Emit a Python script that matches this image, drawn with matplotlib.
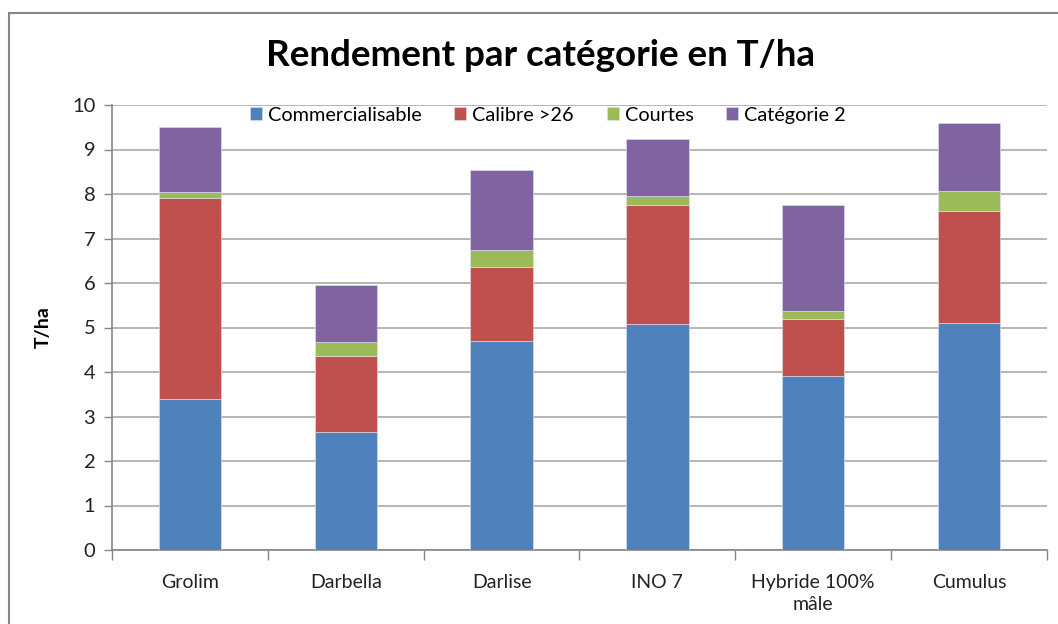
import matplotlib
matplotlib.use("Agg")
import matplotlib.pyplot as plt
import numpy as np
from matplotlib.patches import Rectangle

categories = ["Grolim", "Darbella", "Darlise", "INO 7", "Hybride 100%\nmâle", "Cumulus"]
series_names = ["Commercialisable", "Calibre >26", "Courtes", "Catégorie 2"]
commercialisable = [3.40, 2.65, 4.70, 5.08, 3.92, 5.09]
calibre = [4.50, 1.72, 1.67, 2.67, 1.27, 2.53]
courtes = [0.15, 0.30, 0.38, 0.21, 0.17, 0.45]
categorie2 = [1.46, 1.28, 1.79, 1.27, 2.39, 1.52]
yticks = [0, 1, 2, 3, 4, 5, 6, 7, 8, 9, 10]

colors = ["#4F81BD", "#C0504D", "#9BBB59", "#8064A2"]
FONT = ["Lato", "DejaVu Sans"]
plt.rcParams["font.family"] = FONT

fig = plt.figure(figsize=(10.58, 6.24), dpi=100)
fig.patches.append(Rectangle((9 / 1058, -0.1), 1.2, 1 - 13 / 624 + 0.1,
                             transform=fig.transFigure, fill=False,
                             edgecolor="#868686", linewidth=1.5))

ax = fig.add_axes([112 / 1058, 1 - 550 / 624, 935 / 1058, 445 / 624])
x = np.arange(len(categories))
bottom = np.zeros(len(categories))
for name, vals, c in zip(series_names, [commercialisable, calibre, courtes, categorie2], colors):
    ax.bar(x, vals, width=0.4, bottom=bottom, color=c, label=name, zorder=3,
           edgecolor="#dde6f2", linewidth=0.4)
    bottom += np.array(vals)

ax.set_xlim(-0.5, len(categories) - 0.5)
ax.set_ylim(0, 10)
ax.set_yticks(yticks)
ax.set_yticklabels([str(v) for v in yticks], fontsize=14.5, color="#222222")
ax.set_xticks(x)
ax.set_xticklabels(categories, fontsize=14, color="#222222", linespacing=1.35)
ax.set_xticks(np.arange(-0.5, len(categories)), minor=True)
ax.tick_params(axis="x", which="major", length=0, pad=17)
ax.tick_params(axis="x", which="minor", length=7, color="#868686", width=1)
ax.tick_params(axis="y", length=6, color="#868686", width=1, pad=6)
ax.grid(axis="y", color="#b0b0b0", linewidth=1.3, zorder=0)
for s in ["top", "right"]:
    ax.spines[s].set_visible(False)
for s in ["left", "bottom"]:
    ax.spines[s].set_color("#868686")
    ax.spines[s].set_linewidth(1.2)

ax.set_ylabel("T/ha", fontsize=14, fontweight="bold")
ax.yaxis.set_label_coords((52 - 112) / 935, 0.5)

ax.legend(loc="upper left", bbox_to_anchor=((250 - 112) / 935, 0.996), ncol=4, frameon=False,
          fontsize=14.3, handlelength=0.6, handleheight=0.6, handletextpad=0.3,
          columnspacing=1.65, borderaxespad=0, borderpad=0)

fig.text(540 / 1058, 1 - 55 / 624, "Rendement par catégorie en T/ha", ha="center", va="center",
         fontsize=26.5, fontweight="bold", color="black")

fig.savefig("out.png", dpi=100, facecolor="white")
